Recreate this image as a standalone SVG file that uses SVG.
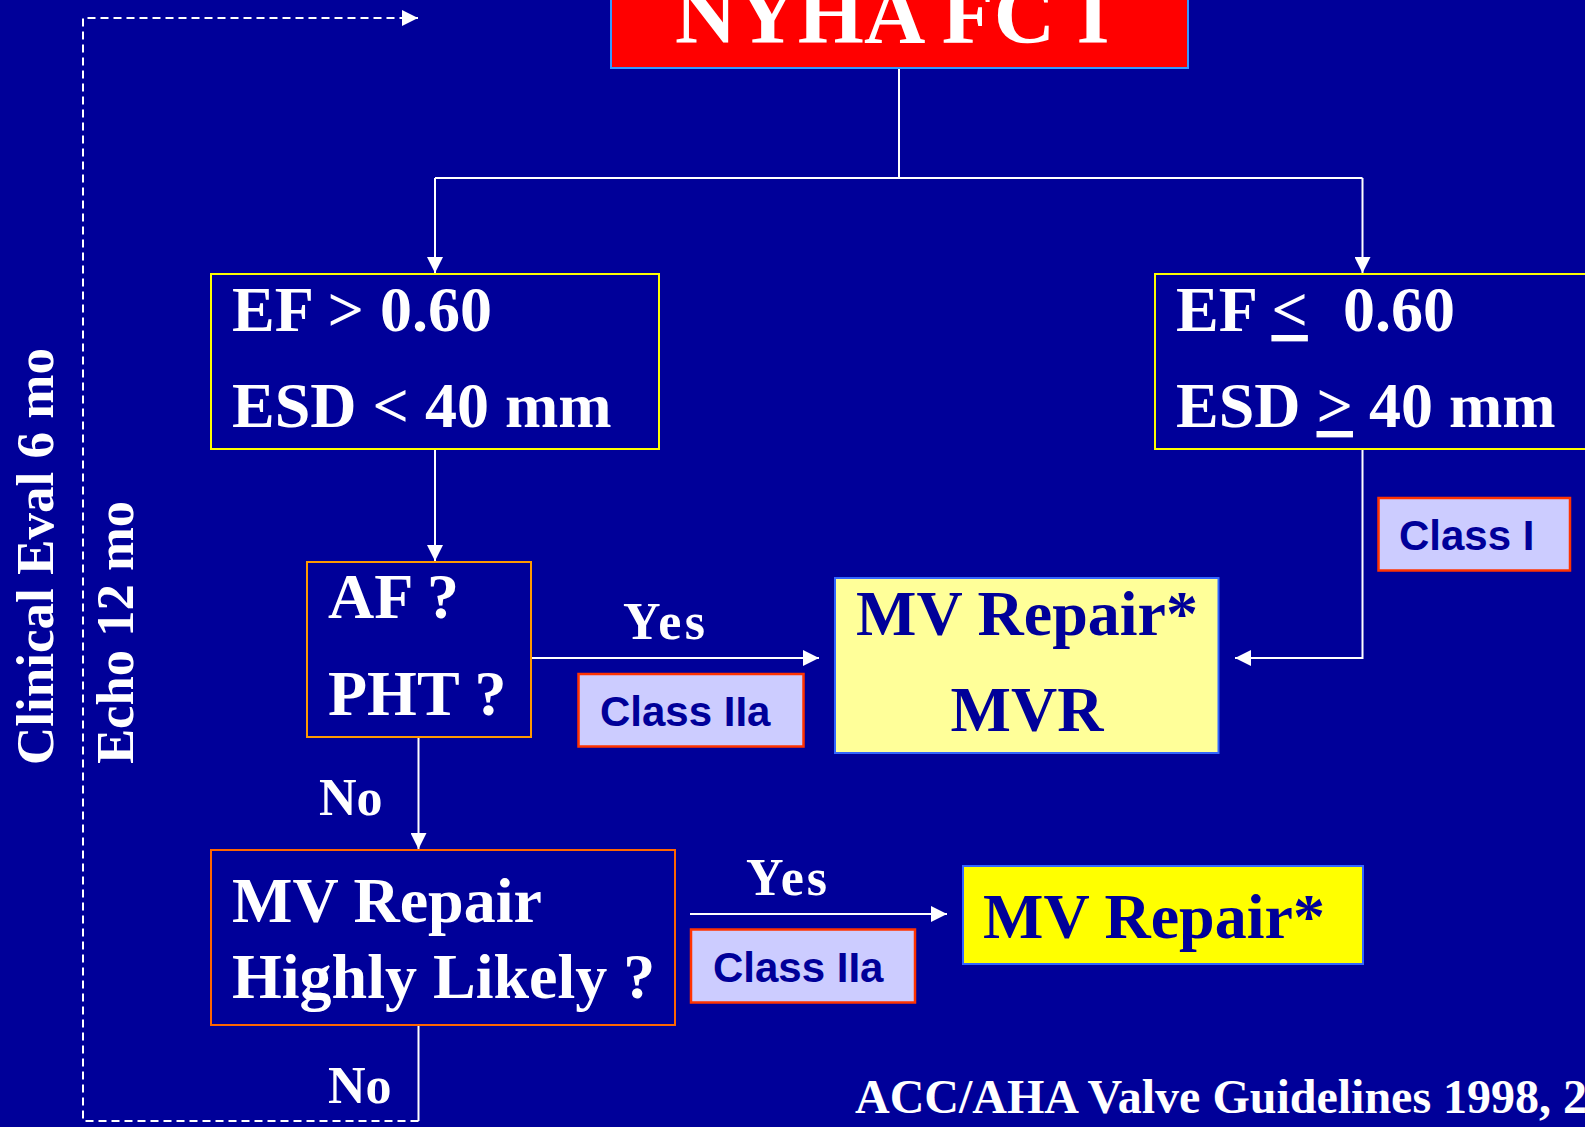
<svg xmlns="http://www.w3.org/2000/svg" width="1585" height="1127" viewBox="0 0 1585 1127">
<style>
.t{font-family:"Liberation Serif","Times New Roman",serif;font-weight:bold;fill:#ffffff}
.big{font-size:64px}
.lbl{font-size:52px}
.dk{fill:#000099}
.cls{font-family:"Liberation Sans",Arial,sans-serif;font-weight:bold;font-size:42px;fill:#000099}
.conn{stroke:#ffffff;stroke-width:2;fill:none}
.dash{stroke-dasharray:8 5}
.box{stroke-width:2}
.clsbox{fill:#ccccff;stroke:#ff3300;stroke-width:2.5}
</style>
<defs>
<marker id="arr" markerUnits="userSpaceOnUse" markerWidth="16" markerHeight="16" viewBox="0 0 16 16" refX="16" refY="8" orient="auto">
<path d="M0,0 L16,8 L0,16 z" fill="#ffffff"/>
</marker>
</defs>
<rect x="0" y="0" width="1585" height="1127" fill="#000099"/>

<g id="connectors">
<line class="conn" x1="899" y1="68" x2="899" y2="178"/>
<line class="conn" x1="435" y1="178" x2="1362.5" y2="178"/>
<line class="conn" x1="435" y1="178" x2="435" y2="273" marker-end="url(#arr)"/>
<line class="conn" x1="1362.5" y1="178" x2="1362.5" y2="273" marker-end="url(#arr)"/>
<line class="conn" x1="435" y1="449" x2="435" y2="561" marker-end="url(#arr)"/>
<line class="conn" x1="531" y1="658" x2="819" y2="658" marker-end="url(#arr)"/>
<polyline class="conn" points="1362.5,449 1362.5,658 1235,658" marker-end="url(#arr)"/>
<line class="conn" x1="418.5" y1="737" x2="418.5" y2="849" marker-end="url(#arr)"/>
<line class="conn" x1="690" y1="914" x2="947" y2="914" marker-end="url(#arr)"/>
<line class="conn" x1="418.5" y1="1025" x2="418.5" y2="1121"/>
<polyline class="conn dash" points="418.5,1121 83,1121 83,18 418,18" marker-end="url(#arr)"/>
</g>

<g id="nyha">
<rect class="box" x="611" y="-10" width="577" height="78" fill="#ff0000" stroke="#3399ff"/>
<text class="t" x="675" y="43" font-size="85">NYHA FC I</text>
</g>

<g id="ef-high">
<rect class="box" x="211" y="274" width="448" height="175" fill="none" stroke="#ffff00"/>
<text class="t big" x="232" y="331">EF &gt; 0.60</text>
<text class="t big" x="232" y="427">ESD &lt; 40 mm</text>
</g>

<g id="ef-low">
<rect class="box" x="1155" y="274" width="440" height="175" fill="none" stroke="#ffff00"/>
<text class="t big" x="1176" y="331">EF <tspan text-decoration="underline">&lt;</tspan><tspan x="1343">0.60</tspan></text>
<text class="t big" x="1176" y="427">ESD <tspan text-decoration="underline">&gt;</tspan> 40 mm</text>
</g>

<g id="class-i">
<rect class="clsbox" x="1378.5" y="498" width="191.5" height="72.5"/>
<text class="cls" x="1399" y="550">Class I</text>
</g>

<g id="af-pht">
<rect class="box" x="307" y="562" width="224" height="175" fill="none" stroke="#ff9900"/>
<text class="t big" x="328" y="618">AF ?</text>
<text class="t big" x="328" y="715">PHT ?</text>
</g>

<g id="yes1">
<text class="t lbl" x="623" y="639" textLength="82" lengthAdjust="spacing">Yes</text>
</g>

<g id="class-iia-1">
<rect class="clsbox" x="578.5" y="674" width="225" height="72.5"/>
<text class="cls" x="600" y="726">Class IIa</text>
</g>

<g id="mv-repair-mvr">
<rect class="box" x="835" y="578" width="383.5" height="175" fill="#ffff99" stroke="#3366ff"/>
<text class="t big dk" x="1027" y="635" text-anchor="middle">MV Repair*</text>
<text class="t big dk" x="1027" y="731" text-anchor="middle">MVR</text>
</g>

<g id="no1">
<text class="t lbl" x="319" y="815">No</text>
</g>

<g id="repair-likely">
<rect class="box" x="211" y="850" width="464" height="175" fill="none" stroke="#ff6600"/>
<text class="t big" x="232" y="922">MV Repair</text>
<text class="t big" x="232" y="998">Highly Likely ?</text>
</g>

<g id="yes2">
<text class="t lbl" x="746" y="895" textLength="81" lengthAdjust="spacing">Yes</text>
</g>

<g id="class-iia-2">
<rect class="clsbox" x="691" y="929.5" width="224" height="73"/>
<text class="cls" x="713" y="982">Class IIa</text>
</g>

<g id="mv-repair">
<rect class="box" x="963" y="866" width="400" height="98" fill="#ffff00" stroke="#3366ff"/>
<text class="t big dk" x="983" y="938">MV Repair*</text>
</g>

<g id="no2">
<text class="t lbl" x="328" y="1103">No</text>
</g>

<g id="followup">
<text class="t lbl" transform="translate(53,765) rotate(-90)" textLength="417" lengthAdjust="spacingAndGlyphs">Clinical Eval 6 mo</text>
<text class="t lbl" transform="translate(133,764) rotate(-90)" textLength="263" lengthAdjust="spacingAndGlyphs">Echo 12 mo</text>
</g>

<g id="footer">
<text class="t" x="855" y="1113" font-size="48">ACC/AHA Valve Guidelines 1998, 2</text>
</g>
</svg>
